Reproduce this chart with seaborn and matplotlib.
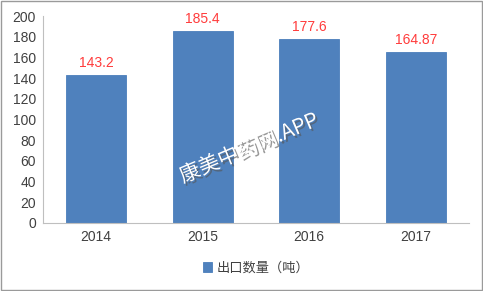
import matplotlib
matplotlib.use("Agg")
import matplotlib.pyplot as plt
import matplotlib.patheffects as pe
import seaborn as sns
import pandas as pd

years = ["2014", "2015", "2016", "2017"]
values = [143.2, 185.4, 177.6, 164.87]
value_labels = ["143.2", "185.4", "177.6", "164.87"]
series_name = "出口数量（吨）"
watermark = "康美中药网.APP"

sns.set_style("white")
plt.rcParams['font.family'] = ['Liberation Sans', 'Noto Sans CJK SC', 'DejaVu Sans']

df = pd.DataFrame({"year": years, "value": values, "series": series_name})

fig = plt.figure(figsize=(4.83, 2.91), dpi=100)
ax = fig.add_axes([0.089, 0.234, 0.882, 0.711])
sns.barplot(data=df, x="year", y="value", hue="series",
            palette=["#4F81BD"], saturation=1, width=0.565, ax=ax,
            edgecolor="#4A7EBB", linewidth=0.6, legend=True)

ax.set_ylim(0, 200)
ax.set_yticks(range(0, 201, 20))
ax.set_xlabel("")
ax.set_ylabel("")
ax.tick_params(axis="both", labelsize=10, colors="#404040", length=0, pad=5)
for s in ["top", "right"]:
    ax.spines[s].set_visible(False)
for s in ["left", "bottom"]:
    ax.spines[s].set_color("#BFBFBF")
    ax.spines[s].set_linewidth(0.8)

for i, (v, lab) in enumerate(zip(values, value_labels)):
    ax.text(i, v + 5, lab, ha="center", va="bottom", color="#FF3B3B", fontsize=10)

leg = ax.legend(loc="upper center", bbox_to_anchor=(0.5, -0.13), frameon=False,
                handlelength=0.7, handleheight=0.7, handletextpad=0.3,
                prop={'family': ['Noto Sans CJK SC', 'DejaVu Sans'], 'size': 9.5})
for t in leg.get_texts():
    t.set_color("#404040")

fig.text(0.516, 0.49, watermark, rotation=23, ha="center", va="center",
         fontsize=15, color="white",
         family=['Noto Sans CJK SC', 'DejaVu Sans'],
         path_effects=[pe.withSimplePatchShadow(offset=(1.5, -1.5), shadow_rgbFace="#555555", alpha=0.6)])

border = plt.Rectangle((0.003, 0.003), 0.994, 0.994, transform=fig.transFigure,
                       fill=False, edgecolor="#9A9A9A", linewidth=1.0)
fig.patches.append(border)

fig.savefig("out.png", dpi=100)
